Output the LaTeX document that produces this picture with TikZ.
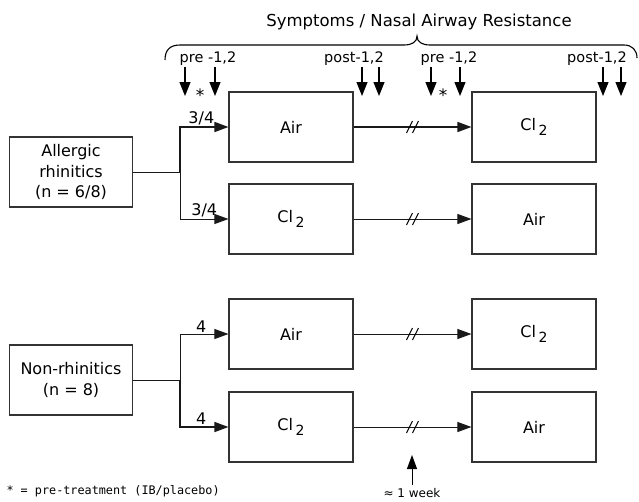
\documentclass[tikz,border=0pt]{standalone}
\usepackage{fontspec}
\setmainfont{DejaVu Sans}
\newfontfamily\monofont{DejaVu Sans Mono}
\usetikzlibrary{arrows.meta,positioning}
\newcommand{\cltwo}{Cl\,\raisebox{-0.55ex}{\fontsize{14}{14}\selectfont 2}}
\tikzset{
  box/.style={draw=black!80, line width=1.1pt, minimum width=124pt, minimum height=70pt, align=center, font=\fontsize{16}{20.5}\selectfont},
  lbl/.style={font=\fontsize{14.5}{16}\selectfont, inner sep=1pt},
  cnt/.style={font=\fontsize{16}{18}\selectfont, inner sep=1.5pt},
  thinline/.style={line width=0.9pt, draw=black!90},
  thickline/.style={line width=1.5pt, draw=black!90},
  dnarrow/.style={-{Triangle[length=14pt,width=11pt]}, line width=1.1pt},
  brk/.pic={\draw[line width=1pt] (-6,6) -- (0,-6) (0,6) -- (6,-6);}
}
\begin{document}
\begin{tikzpicture}[x=1pt, y=-1pt, >={Triangle[length=14pt,width=10pt]}]
    \useasboundingbox (0,0) rectangle (639,501);

    % header with brace
    \node[font=\fontsize{16.5}{18}\selectfont] (title) at (419,22) {Symptoms / Nasal Airway Resistance};
    \draw[line width=1.1pt] (165,60) .. controls (165,50) and (170,45) .. (180,45) -- (404,45)
        .. controls (412,45) and (417,42) .. (417,36) .. controls (417,42) and (422,45) .. (430,45)
        -- (624,45) .. controls (632,45) and (637,50) .. (637,58);
    \node[lbl] (pre1) at (208,59) {pre -1,2};
    \node[lbl] (post1) at (354,59) {post-1,2};
    \node[lbl] (pre2) at (449,59) {pre -1,2};
    \node[lbl] (post2) at (597,59) {post-1,2};
    \foreach \x in {185,215,362,379,431,460,603,621}
        \draw[dnarrow] (\x,67) -- (\x,96);
    \node[font=\fontsize{17}{18}\selectfont, inner sep=0pt] (star1) at (200,95) {*};
    \node[font=\fontsize{17}{18}\selectfont, inner sep=0pt] (star2) at (443,95) {*};

    % treatment boxes
    \node[box] (air1) at (291,127) {Air};
    \node[box] (cl1) [below of=air1, node distance=92pt] {\cltwo};
    \node[box] (air3) [below of=cl1, node distance=115pt] {Air};
    \node[box] (cl3) [below of=air3, node distance=93pt] {\cltwo};
    \node[box] (cl1b) [right of=air1, node distance=243pt] {\cltwo};
    \node[box] (air2b) [right of=cl1, node distance=243pt] {Air};
    \node[box] (cl3b) [right of=air3, node distance=243pt] {\cltwo};
    \node[box] (air4b) [right of=cl3, node distance=243pt] {Air};

    % groups
    \node[box, minimum width=123pt] (allergic) at (71,172) {Allergic\\rhinitics\\(n = 6/8)};
    \node[box, minimum width=123pt] (nonrhin) at (71,380) {Non-rhinitics\\(n = 8)};
    \coordinate (jA) at (180,172);
    \coordinate (jN) at (180,380);

    \draw[thinline] (allergic) -- (jA);
    \draw[->, thickline] (jA) |- node[pos=.72, above, cnt] {3/4} (air1);
    \draw[->, thinline] (jA) |- node[pos=.75, above, cnt] {3/4} (cl1);
    \draw[thinline] (nonrhin) -- (jN);
    \draw[->, thinline] (jN) |- node[pos=.72, above, cnt] {4} (air3);
    \draw[->, thickline] (jN) |- node[pos=.72, above, cnt] {4} (cl3);

    % crossover after about one week
    \draw[->, thickline] (air1) -- coordinate[pos=.5] (m1) (cl1b);
    \draw[->, thinline] (cl1) -- coordinate[pos=.5] (m2) (air2b);
    \draw[->, thinline] (air3) -- coordinate[pos=.5] (m3) (cl3b);
    \draw[->, thinline] (cl3) -- coordinate[pos=.5] (m4) (air4b);
    \foreach \m in {m1,m2,m3,m4}
        \pic at (\m) {brk};

    \node[font=\fontsize{12}{14}\selectfont] (week) at (412,493) {≈ 1 week};
    \coordinate (weekTip) at (412,455);
    \draw[->, line width=1pt] (week) -- (weekTip);

    \node[font=\monofont\fontsize{11.8}{14}\selectfont, anchor=west] (note) at (3,491) {* = pre-treatment (IB/placebo)};
\end{tikzpicture}
\end{document}
